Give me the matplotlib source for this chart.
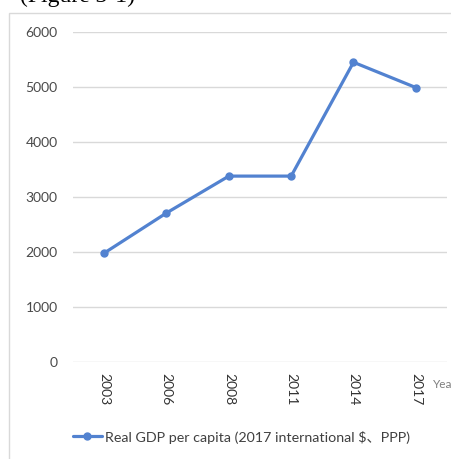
import matplotlib.pyplot as plt
from matplotlib.patches import Rectangle

# Real GDP per capita series
years = ["2003", "2006", "2008", "2011", "2014", "2017"]
gdp = [1980, 2710, 3380, 3380, 5450, 4990]
y_ticks = [0, 1000, 2000, 3000, 4000, 5000, 6000]
series_label = "Real GDP per capita (2017 international $、PPP)"

W, H = 452, 459
fig = plt.figure(figsize=(W / 100, H / 100), dpi=100)
fonts = ["Lato", "Noto Sans CJK JP", "DejaVu Sans"]

# caption line from the surrounding document, mostly cut off at the top
fig.text(20 / W, 1 - 2 / H, "(Figure 3-1)", family="Liberation Serif",
         fontsize=17, color="black", va="baseline", ha="left")

# chart frame
fig.patches.append(Rectangle((9 / W, -0.1), 1.2, 1 - 13 / H + 0.1,
                             transform=fig.transFigure, fill=False,
                             edgecolor="#d9d9d9", linewidth=1.0))

ax = fig.add_axes([73 / W, 1 - 362 / H, 374 / W, 330 / H])
x = list(range(len(years)))
line, = ax.plot(x, gdp, color="#5282d0", linewidth=2.3, marker="o",
                markersize=5, solid_capstyle="round", zorder=3)

ax.set_xlim(-0.5, len(years) - 0.5)
ax.set_ylim(0, 6000)
ax.set_yticks(y_ticks)
ax.set_yticklabels([str(v) for v in y_ticks], family=fonts, fontsize=10,
                   color="#4a4a4a")
ax.set_xticks(x)
ax.set_xticklabels(years, rotation=-90, family=fonts, fontsize=10,
                   color="#333333")
ax.tick_params(axis="both", length=0)
ax.tick_params(axis="y", pad=11)
ax.tick_params(axis="x", pad=8)
ax.grid(axis="y", color="#d9d9d9", linewidth=1.0)
ax.set_axisbelow(True)
for s in ax.spines.values():
    s.set_visible(False)

# axis title, runs past the right edge
fig.text(433 / W, 1 - 384 / H, "Year", family=fonts, fontsize=8.5,
         color="#7f7f7f", va="center", ha="left")

fig.legend([line], [series_label], loc="center left",
           bbox_to_anchor=(73 / W, 1 - 437 / H), frameon=False,
           borderpad=0, borderaxespad=0, handlelength=2.0,
           handletextpad=0.25, prop={"family": fonts, "size": 10.3},
           labelcolor="#404040")

fig.savefig("out.png", dpi=100)
